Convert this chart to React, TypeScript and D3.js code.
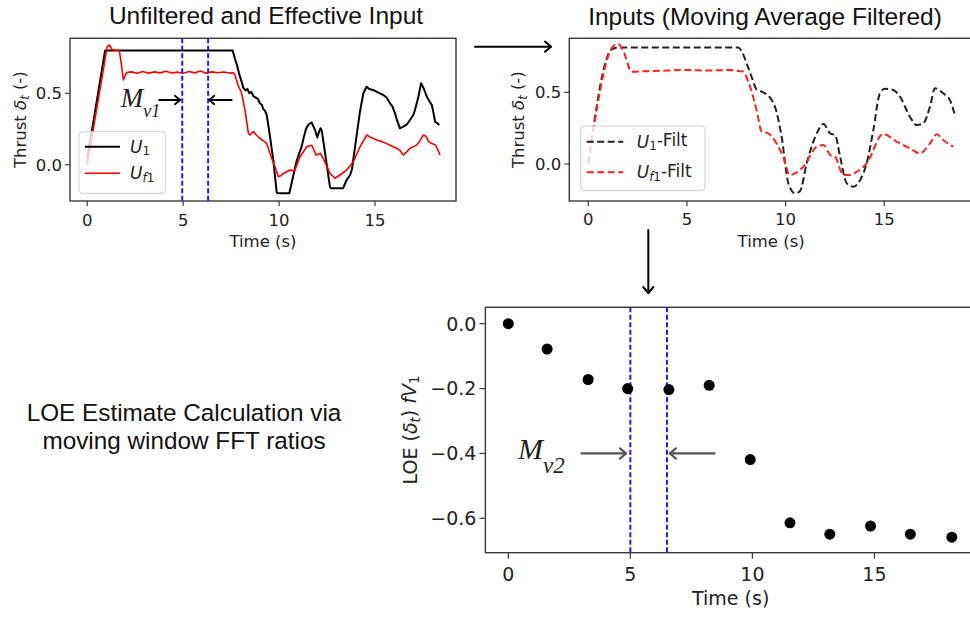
import React from 'react';
import * as d3 from 'd3';

// ---------------- DATA ----------------
const u1Time = [0, 0.93, 3, 7.58, 7.7, 7.82, 7.95, 8.05, 8.13, 8.25, 8.35, 8.45, 8.55, 8.66, 8.78, 8.9, 9.0, 9.1, 9.17, 9.25, 9.35, 9.5, 9.7, 9.87, 9.92, 10.53, 10.7, 10.9, 11.05, 11.18, 11.3, 11.4, 11.52, 11.62, 11.7, 11.78, 11.87, 11.99, 12.08, 12.16, 12.22, 12.3, 12.45, 12.65, 12.7, 13.33, 13.52, 13.7, 13.8, 13.96, 14.2, 14.39, 14.56, 14.7, 14.9, 15.1, 15.25, 15.43, 15.6, 15.78, 15.9, 16.04, 16.15, 16.3, 16.47, 16.65, 16.82, 17.0, 17.08, 17.25, 17.4, 17.55, 17.7, 17.85, 17.96, 18.05, 18.13, 18.25, 18.35];
const u1Vals = [0.04, 0.8, 0.8, 0.8, 0.74, 0.69, 0.62, 0.58, 0.54, 0.52, 0.53, 0.5, 0.51, 0.48, 0.47, 0.46, 0.43, 0.42, 0.39, 0.38, 0.35, 0.22, 0.03, -0.19, -0.2, -0.2, -0.1, 0.02, 0.08, 0.13, 0.2, 0.25, 0.28, 0.29, 0.295, 0.27, 0.245, 0.19, 0.23, 0.255, 0.24, 0.17, 0.03, -0.155, -0.165, -0.165, -0.107, -0.072, -0.03, 0.126, 0.36, 0.5, 0.546, 0.53, 0.523, 0.51, 0.5, 0.488, 0.47, 0.43, 0.41, 0.36, 0.31, 0.255, 0.266, 0.28, 0.313, 0.35, 0.383, 0.47, 0.57, 0.53, 0.476, 0.44, 0.418, 0.36, 0.301, 0.29, 0.278];

const uf1Time = [0, 1.04, 1.15, 1.3, 1.67, 1.78, 1.88, 2.05, 2.3, 2.6, 2.9, 3.2, 3.5, 3.8, 4.1, 4.4, 4.7, 5.0, 5.3, 5.6, 5.9, 6.2, 6.5, 6.8, 7.1, 7.4, 7.6, 7.7, 7.85, 8.05, 8.22, 8.4, 8.48, 8.66, 8.8, 9.0, 9.2, 9.35, 9.61, 9.8, 9.96, 10.1, 10.22, 10.57, 10.8, 11.09, 11.44, 11.7, 11.92, 12.16, 12.34, 12.65, 12.91, 13.17, 13.52, 13.87, 14.22, 14.57, 14.8, 15.09, 15.4, 15.78, 16.13, 16.3, 16.47, 16.65, 16.82, 17.17, 17.35, 17.52, 17.65, 17.8, 17.96, 18.15, 18.39];
const uf1Vals = [0, 0.827, 0.838, 0.805, 0.8, 0.7, 0.594, 0.645, 0.65, 0.64, 0.652, 0.641, 0.65, 0.643, 0.655, 0.642, 0.648, 0.64, 0.652, 0.643, 0.656, 0.641, 0.65, 0.644, 0.649, 0.642, 0.645, 0.628, 0.56, 0.5, 0.383, 0.22, 0.208, 0.232, 0.21, 0.185, 0.165, 0.15, 0.045, -0.02, -0.084, -0.075, -0.061, -0.037, -0.045, 0.056, 0.126, 0.137, 0.068, 0.079, 0.033, -0.061, -0.095, -0.072, -0.037, 0.021, 0.126, 0.208, 0.19, 0.173, 0.16, 0.137, 0.115, 0.1, 0.068, 0.09, 0.115, 0.137, 0.17, 0.208, 0.2, 0.16, 0.149, 0.14, 0.068];

const u1FiltTime = [0, 1.18, 1.5, 4, 7.6, 7.8, 8.03, 8.3, 8.53, 8.87, 9.2, 9.46, 9.8, 10.14, 10.48, 10.73, 11.07, 11.58, 11.92, 12.26, 12.51, 12.77, 13.1, 13.44, 13.78, 14.11, 14.45, 14.78, 15.04, 15.46, 15.8, 16.3, 16.64, 16.98, 17.32, 17.57, 17.99, 18.33, 18.58];
const u1FiltVals = [0.005, 0.8, 0.812, 0.812, 0.812, 0.78, 0.7, 0.6, 0.52, 0.5, 0.465, 0.4, 0.19, -0.135, -0.205, -0.19, 0.005, 0.214, 0.28, 0.214, 0.202, 0.047, -0.135, -0.158, -0.111, 0.005, 0.237, 0.493, 0.525, 0.516, 0.47, 0.33, 0.272, 0.284, 0.4, 0.528, 0.493, 0.446, 0.342];

const uf1FiltTime = [0, 1.27, 1.52, 1.77, 2.2, 3, 4, 5, 6, 7, 7.85, 8.11, 8.53, 8.79, 9.12, 9.54, 9.88, 10.22, 10.48, 10.9, 11.58, 11.92, 12.26, 12.51, 12.93, 13.27, 13.61, 14.11, 14.95, 15.63, 16.3, 16.81, 17.32, 17.66, 17.99, 18.5];
const uf1FiltVals = [0.005, 0.823, 0.837, 0.79, 0.644, 0.648, 0.652, 0.656, 0.652, 0.655, 0.645, 0.574, 0.377, 0.225, 0.214, 0.144, 0.05, -0.077, -0.065, -0.019, 0.121, 0.133, 0.063, 0.05, -0.077, -0.077, -0.054, 0.005, 0.21, 0.156, 0.109, 0.074, 0.144, 0.207, 0.167, 0.121];

const loeTime = [0, 1.59, 3.27, 4.89, 6.58, 8.23, 9.91, 11.54, 13.17, 14.84, 16.47, 18.17];
const loeVals = [0, -0.078, -0.172, -0.2, -0.203, -0.19, -0.419, -0.614, -0.649, -0.624, -0.649, -0.658];

const xTicks = [0, 5, 10, 15];
const thrustTicks = [0, 0.5];
const loeTicks = [0, -0.2, -0.4, -0.6];
const windowTop = [4.95, 6.3];
const windowLoe = [5.0, 6.5];

// ---------------- HELPERS ----------------
const SANS = 'DejaVu Sans, sans-serif';
const ARIAL = 'Liberation Sans, Arial, sans-serif';
const SERIF = 'Liberation Serif, Times New Roman, serif';
const FRAME = '#3a3a3a';

const fmt1 = (v: number) => (v < 0 ? '\u2212' : '') + Math.abs(v).toFixed(1);

type Frame = { left: number; right: number; top: number; bottom: number };

function Arrow({ x1, y1, x2, y2, color = '#000', w = 2, head = 6 }: any) {
  const a = Math.atan2(y2 - y1, x2 - x1);
  const p1 = [x2 - head * Math.cos(a) + head * 0.85 * Math.sin(a), y2 - head * Math.sin(a) - head * 0.85 * Math.cos(a)];
  const p2 = [x2 - head * Math.cos(a) - head * 0.85 * Math.sin(a), y2 - head * Math.sin(a) + head * 0.85 * Math.cos(a)];
  return (
    <g stroke={color} strokeWidth={w} fill="none" strokeLinecap="round" strokeLinejoin="round">
      <line x1={x1} y1={y1} x2={x2} y2={y2} />
      <polyline points={`${p1[0]},${p1[1]} ${x2},${y2} ${p2[0]},${p2[1]}`} />
    </g>
  );
}

function Axes({ f, x, y, yTicks, tickLen, fs, lfs, xTickBase, xLabelBase, yLabelX, yLabel, clipId }: any) {
  return (
    <g>
      <rect x={f.left} y={f.top} width={f.right - f.left} height={f.bottom - f.top} fill="none" stroke={FRAME} strokeWidth={1.4} />
      {xTicks.map((t) => (
        <g key={'x' + t}>
          <line x1={x(t)} x2={x(t)} y1={f.bottom} y2={f.bottom + tickLen} stroke={FRAME} strokeWidth={1.2} />
          <text x={x(t)} y={xTickBase} textAnchor="middle" fontFamily={SANS} fontSize={fs} fill="#222">{t}</text>
        </g>
      ))}
      {yTicks.map((t: number) => (
        <g key={'y' + t}>
          <line x1={f.left - tickLen} x2={f.left} y1={y(t)} y2={y(t)} stroke={FRAME} strokeWidth={1.2} />
          <text x={f.left - tickLen - 3} y={y(t)} dy="0.36em" textAnchor="end" fontFamily={SANS} fontSize={fs} fill="#222">{fmt1(t)}</text>
        </g>
      ))}
      <text x={(f.left + f.right) / 2} y={xLabelBase} textAnchor="middle" fontFamily={SANS} fontSize={lfs} fill="#222">Time (s)</text>
      <text transform={`translate(${yLabelX},${(f.top + f.bottom) / 2}) rotate(-90)`} textAnchor="middle" fontFamily={SANS} fontSize={lfs} fill="#222">{yLabel}</text>
      <clipPath id={clipId}><rect x={f.left} y={f.top} width={f.right - f.left} height={f.bottom - f.top} /></clipPath>
    </g>
  );
}

const thrustLabel = (
  <>
    Thrust <tspan fontStyle="italic">δ</tspan><tspan fontStyle="italic" fontSize="0.7em" dy="0.25em">t</tspan><tspan dy="-0.25em"> (-)</tspan>
  </>
);

export default function App() {
  // Panel 1: Unfiltered and Effective Input
  const f1: Frame = { left: 70, right: 456, top: 38.3, bottom: 201 };
  const x1 = d3.scaleLinear().domain([-0.9, 19.22]).range([f1.left, f1.right]);
  const y1 = d3.scaleLinear().domain([-0.254, 0.885]).range([f1.bottom, f1.top]);
  // Panel 2: Inputs (Moving Average Filtered)
  const f2: Frame = { left: 569.3, right: 973, top: 38.3, bottom: 201 };
  const x2 = d3.scaleLinear().domain([-0.963, 19.5]).range([f2.left, f2.right]);
  const y2 = d3.scaleLinear().domain([-0.258, 0.877]).range([f2.bottom, f2.top]);
  // Panel 3: LOE
  const f3: Frame = { left: 485.4, right: 976, top: 307.3, bottom: 552.7 };
  const x3 = d3.scaleLinear().domain([-0.938, 19.16]).range([f3.left, f3.right]);
  const y3 = d3.scaleLinear().domain([-0.706, 0.0506]).range([f3.bottom, f3.top]);

  const line1 = d3.line<number>().x((_, i) => x1(u1Time[i])).y((d) => y1(d));
  const line1f = d3.line<number>().x((_, i) => x1(uf1Time[i])).y((d) => y1(d));
  const line2 = d3.line<number>().x((_, i) => x2(u1FiltTime[i])).y((d) => y2(d)).curve(d3.curveMonotoneX);
  const line2f = d3.line<number>().x((_, i) => x2(uf1FiltTime[i])).y((d) => y2(d)).curve(d3.curveMonotoneX);

  return (
    <svg width={970} height={618} style={{ position: 'absolute', left: 0, top: 0, background: '#fff' }}>
      <rect x={0} y={0} width={970} height={618} fill="#fff" />

      {/* Titles */}
      <text x={266} y={24} textAnchor="middle" fontFamily={ARIAL} fontSize={24.5} fill="#111">Unfiltered and Effective Input</text>
      <text x={765} y={25} textAnchor="middle" fontFamily={ARIAL} fontSize={24.5} fill="#111">Inputs (Moving Average Filtered)</text>

      {/* Panel 1 */}
      <Axes f={f1} x={x1} y={y1} yTicks={thrustTicks} tickLen={5} fs={16.5} lfs={16.5} xTickBase={225.5} xLabelBase={246.5} yLabelX={26} yLabel={thrustLabel} clipId="c1" />
      <g clipPath="url(#c1)">
        <path d={line1(u1Vals) || ''} fill="none" stroke="#000" strokeWidth={2} strokeLinejoin="round" />
        <path d={line1f(uf1Vals) || ''} fill="none" stroke="#ff0000" strokeWidth={1.6} strokeLinejoin="round" />
        {windowTop.map((w) => (
          <line key={w} x1={x1(w)} x2={x1(w)} y1={f1.top} y2={f1.bottom} stroke="#1a1aff" strokeWidth={2} strokeDasharray="5,2.5" />
        ))}
      </g>
      <rect x={79} y={131.7} width={86.7} height={61.6} rx={4} fill="#fff" fillOpacity={0.8} stroke="#d0d0d0" strokeWidth={1} />
      <line x1={85} x2={120} y1={146.7} y2={146.7} stroke="#000" strokeWidth={2} />
      <line x1={85} x2={120} y1={173.3} y2={173.3} stroke="#ff0000" strokeWidth={1.6} />
      <text x={130} y={152.5} fontFamily={SANS} fontSize={17} fill="#222"><tspan fontStyle="italic">U</tspan><tspan fontSize="0.7em" dy="0.22em">1</tspan></text>
      <text x={130} y={179} fontFamily={SANS} fontSize={17} fill="#222"><tspan fontStyle="italic">U</tspan><tspan fontSize="0.7em" dy="0.22em"><tspan fontStyle="italic">f</tspan>1</tspan></text>
      {/* Mv1 annotation */}
      <text x={x1(1.74)} y={y1(0.406)} fontFamily={SERIF} fontStyle="italic" fontSize={27} fill="#1e1e1e">M<tspan fontSize={18} dy={10}>v1</tspan></text>
      <Arrow x1={x1(3.75)} y1={y1(0.453)} x2={x1(4.83)} y2={y1(0.453)} w={1.8} head={5} />
      <Arrow x1={x1(7.53)} y1={y1(0.453)} x2={x1(6.36)} y2={y1(0.453)} w={1.8} head={5} />

      {/* Panel 2 */}
      <Axes f={f2} x={x2} y={y2} yTicks={thrustTicks} tickLen={5} fs={16.5} lfs={16.5} xTickBase={225} xLabelBase={246.5} yLabelX={524} yLabel={thrustLabel} clipId="c2" />
      <g clipPath="url(#c2)">
        <path d={line2(u1FiltVals) || ''} fill="none" stroke="#222" strokeWidth={2} strokeDasharray="7,3.5" />
        <path d={line2f(uf1FiltVals) || ''} fill="none" stroke="#ff2020" strokeWidth={2} strokeDasharray="7,3.5" />
      </g>
      <rect x={580.7} y={126} width={124.3} height={64.7} rx={4} fill="#fff" fillOpacity={0.8} stroke="#d0d0d0" strokeWidth={1} />
      <line x1={586.7} x2={623.3} y1={141.7} y2={141.7} stroke="#222" strokeWidth={2} strokeDasharray="7,3.5" />
      <line x1={586.7} x2={623.3} y1={172.3} y2={172.3} stroke="#ff2020" strokeWidth={2} strokeDasharray="7,3.5" />
      <text x={636.7} y={147.5} fontFamily={SANS} fontSize={17} fill="#222"><tspan fontStyle="italic">U</tspan><tspan fontSize="0.7em" dy="0.22em">1</tspan><tspan dy="-0.22em">-Filt</tspan></text>
      <text x={636.7} y={178} fontFamily={SANS} fontSize={17} fill="#222"><tspan fontStyle="italic">U</tspan><tspan fontSize="0.7em" dy="0.22em"><tspan fontStyle="italic">f</tspan>1</tspan><tspan dy="-0.22em">-Filt</tspan></text>

      {/* Flow arrows */}
      <Arrow x1={475} y1={46.7} x2={551} y2={46.7} w={2} head={6} />
      <Arrow x1={648.3} y1={230} x2={648.3} y2={293} w={2} head={6} />

      {/* Left description */}
      <text x={184} y={421} textAnchor="middle" fontFamily={ARIAL} fontSize={24.3} fill="#111">LOE Estimate Calculation via</text>
      <text x={184} y={449} textAnchor="middle" fontFamily={ARIAL} fontSize={24.3} fill="#111">moving window FFT ratios</text>

      {/* Panel 3 */}
      <Axes f={f3} x={x3} y={y3} yTicks={loeTicks} tickLen={6} fs={19} lfs={19} xTickBase={581} xLabelBase={605} yLabelX={417}
        yLabel={<>LOE (<tspan fontStyle="italic">δ</tspan><tspan fontStyle="italic" fontSize="0.7em" dy="0.25em">t</tspan><tspan dy="-0.25em">) </tspan><tspan fontStyle="italic">fV</tspan><tspan fontSize="0.7em" dy="0.25em">1</tspan></>}
        clipId="c3" />
      <g clipPath="url(#c3)">
        {windowLoe.map((w) => (
          <line key={w} x1={x3(w)} x2={x3(w)} y1={f3.top} y2={f3.bottom} stroke="#1a1aff" strokeWidth={2} strokeDasharray="5,2.5" />
        ))}
        {loeVals.map((v, i) => (
          <circle key={i} cx={x3(loeTime[i])} cy={y3(v)} r={5.5} fill="#000" />
        ))}
      </g>
      {/* Mv2 annotation */}
      <text x={x3(0.4)} y={y3(-0.417)} fontFamily={SERIF} fontStyle="italic" fontSize={30} fill="#1e1e1e">M<tspan fontSize={23} dy={14}>v2</tspan></text>
      <Arrow x1={x3(3.0)} y1={y3(-0.4)} x2={x3(4.82)} y2={y3(-0.4)} color="#555" w={2.2} head={6} />
      <Arrow x1={x3(8.45)} y1={y3(-0.4)} x2={x3(6.62)} y2={y3(-0.4)} color="#555" w={2.2} head={6} />
    </svg>
  );
}
